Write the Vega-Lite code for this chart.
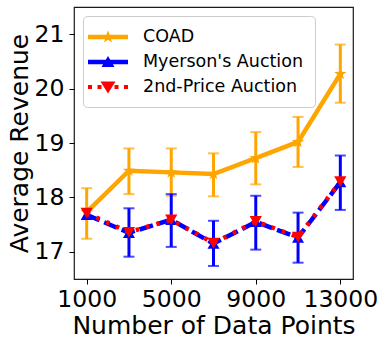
{
  "$schema": "https://vega.github.io/schema/vega-lite/v6.json",
  "width": 279,
  "height": 272,
  "autosize": {"type": "none"},
  "padding": {"left": 74, "top": 7, "right": 34, "bottom": 66},
  "background": "white",
  "config": {
    "view": {"stroke": "#1a1a1a", "strokeWidth": 1.2},
    "font": "DejaVu Sans",
    "axis": {
      "domain": false,
      "grid": false,
      "labelFlush": false,
      "labelOverlap": false,
      "tickColor": "#000",
      "tickSize": 5,
      "tickWidth": 1,
      "labelFont": "DejaVu Sans",
      "labelFontSize": 23.5,
      "labelColor": "#000",
      "titleFont": "DejaVu Sans",
      "titleFontSize": 25,
      "titleFontWeight": "normal",
      "titleColor": "#000"
    }
  },
  "data": {
    "values": [
      {"n": 1000, "series": "COAD", "mean": 17.73, "lo": 17.24, "hi": 18.17},
      {"n": 3000, "series": "COAD", "mean": 18.49, "lo": 18.06, "hi": 18.90},
      {"n": 5000, "series": "COAD", "mean": 18.46, "lo": 18.03, "hi": 18.90},
      {"n": 7000, "series": "COAD", "mean": 18.43, "lo": 18.02, "hi": 18.81},
      {"n": 9000, "series": "COAD", "mean": 18.72, "lo": 18.24, "hi": 19.20},
      {"n": 11000, "series": "COAD", "mean": 19.02, "lo": 18.56, "hi": 19.48},
      {"n": 13000, "series": "COAD", "mean": 20.27, "lo": 19.74, "hi": 20.81},
      {"n": 1000, "series": "Myerson's Auction", "mean": 17.68, "lo": null, "hi": null},
      {"n": 3000, "series": "Myerson's Auction", "mean": 17.35, "lo": 16.91, "hi": 17.80},
      {"n": 5000, "series": "Myerson's Auction", "mean": 17.59, "lo": 17.09, "hi": 18.06},
      {"n": 7000, "series": "Myerson's Auction", "mean": 17.15, "lo": 16.74, "hi": 17.57},
      {"n": 9000, "series": "Myerson's Auction", "mean": 17.55, "lo": 17.04, "hi": 18.03},
      {"n": 11000, "series": "Myerson's Auction", "mean": 17.26, "lo": 16.80, "hi": 17.72},
      {"n": 13000, "series": "Myerson's Auction", "mean": 18.28, "lo": 17.77, "hi": 18.77},
      {"n": 1000, "series": "2nd-Price Auction", "mean": 17.71, "lo": null, "hi": null},
      {"n": 3000, "series": "2nd-Price Auction", "mean": 17.36, "lo": null, "hi": null},
      {"n": 5000, "series": "2nd-Price Auction", "mean": 17.59, "lo": null, "hi": null},
      {"n": 7000, "series": "2nd-Price Auction", "mean": 17.16, "lo": null, "hi": null},
      {"n": 9000, "series": "2nd-Price Auction", "mean": 17.56, "lo": null, "hi": null},
      {"n": 11000, "series": "2nd-Price Auction", "mean": 17.27, "lo": null, "hi": null},
      {"n": 13000, "series": "2nd-Price Auction", "mean": 18.29, "lo": null, "hi": null}
    ]
  },
  "encoding": {
    "x": {
      "field": "n",
      "type": "quantitative",
      "title": "Number of Data Points",
      "scale": {"domain": [400, 13600], "nice": false, "zero": false},
      "axis": {"values": [1000, 5000, 9000, 13000], "format": "d", "title": "Number of Data Points", "labelPadding": 3, "titlePadding": 3}
    }
  },
  "layer": [
    {
      "transform": [{"filter": "datum.series === 'COAD'"}],
      "mark": {"type": "errorbar", "ticks": {"size": 11, "thickness": 2}, "rule": {"strokeWidth": 3}},
      "encoding": {
        "y": {"field": "lo", "type": "quantitative", "title": "Average Revenue", "scale": {"domain": [16.5, 21.5], "nice": false, "zero": false},
          "axis": {"values": [17, 18, 19, 20, 21], "title": "Average Revenue", "labelPadding": 5, "titlePadding": 2}},
        "y2": {"field": "hi"},
        "color": {"field": "series", "type": "nominal",
          "scale": {"domain": ["COAD", "Myerson's Auction", "2nd-Price Auction"], "range": ["#ffa500", "#0000ff", "#ff0000"]}}
      }
    },
    {
      "transform": [{"filter": "datum.series === 'COAD'"}],
      "mark": {"type": "line", "strokeWidth": 4.5},
      "encoding": {
        "y": {"field": "mean", "type": "quantitative", "title": "Average Revenue"},
        "color": {"field": "series", "type": "nominal",
          "legend": {
            "title": null,
            "orient": "top-left",
            "offset": 9,
            "padding": 11,
            "rowPadding": 6,
            "labelFont": "DejaVu Sans",
            "labelFontSize": 17.5,
            "labelColor": "#000",
            "labelLimit": 0,
            "labelOffset": 29,
            "symbolSize": 400,
            "strokeColor": "#cccccc",
            "cornerRadius": 4,
            "fillColor": "rgba(255,255,255,0.8)",
            "encode": {
              "symbols": {
                "update": {
                  "shape": {"signal": "datum.index === 0 ? 'M-1.6,-0.22H2.4V0.22H-1.6Z M0.4,-0.68L0.559,-0.218L1.047,-0.21L0.657,0.083L0.8,0.55L0.4,0.27L0,0.55L0.143,0.083L-0.247,-0.21L0.241,-0.218Z' : datum.index === 1 ? 'M-1.6,-0.22H2.4V0.22H-1.6Z M0.4,-0.6L1.05,0.5L-0.25,0.5Z' : 'M-1.6,-0.2H-1.2V0.2H-1.6Z M-0.65,-0.2H-0.25V0.2H-0.65Z M1.05,-0.2H1.45V0.2H1.05Z M2.0,-0.2H2.4V0.2H2.0Z M-0.35,-0.55H1.15L0.4,0.65Z'"},
                  "fill": {"signal": "datum.index === 0 ? '#ffa500' : datum.index === 1 ? '#0000ff' : '#ff0000'"},
                  "stroke": {"value": "transparent"},
                  "strokeWidth": {"value": 0},
                  "strokeDash": {"value": []},
                  "size": {"value": 400},
                  "opacity": {"value": 1},
                  "fillOpacity": {"value": 1}
                }
              }
            }
          }}
      }
    },
    {
      "transform": [{"filter": "datum.series === 'COAD'"}],
      "mark": {"type": "point", "filled": true, "opacity": 1, "size": 170,
        "shape": "M0,-1L0.235,-0.324L0.951,-0.309L0.38,0.124L0.588,0.809L0,0.4L-0.588,0.809L-0.38,0.124L-0.951,-0.309L-0.235,-0.324Z"},
      "encoding": {
        "y": {"field": "mean", "type": "quantitative", "title": "Average Revenue"},
        "color": {"field": "series", "type": "nominal"}
      }
    },
    {
      "transform": [{"filter": "datum.series !== 'COAD' && isValid(datum.lo)"}],
      "mark": {"type": "errorbar", "ticks": {"size": 11, "thickness": 2}, "rule": {"strokeWidth": 3}},
      "encoding": {
        "y": {"field": "lo", "type": "quantitative", "title": "Average Revenue"},
        "y2": {"field": "hi"},
        "color": {"field": "series", "type": "nominal"}
      }
    },
    {
      "transform": [{"filter": "datum.series === 'Myerson\\'s Auction'"}],
      "mark": {"type": "line", "strokeWidth": 4.5, "strokeDash": [14, 5]},
      "encoding": {
        "y": {"field": "mean", "type": "quantitative", "title": "Average Revenue"},
        "color": {"field": "series", "type": "nominal"}
      }
    },
    {
      "transform": [{"filter": "datum.series === 'Myerson\\'s Auction'"}],
      "mark": {"type": "point", "filled": true, "opacity": 1, "size": 144, "shape": "triangle-up"},
      "encoding": {
        "y": {"field": "mean", "type": "quantitative", "title": "Average Revenue"},
        "color": {"field": "series", "type": "nominal"}
      }
    },
    {
      "transform": [{"filter": "datum.series === '2nd-Price Auction'"}],
      "mark": {"type": "line", "strokeWidth": 4.5, "strokeDash": [3.5, 7.2]},
      "encoding": {
        "y": {"field": "mean", "type": "quantitative", "title": "Average Revenue"},
        "color": {"field": "series", "type": "nominal"}
      }
    },
    {
      "transform": [{"filter": "datum.series === '2nd-Price Auction'"}],
      "mark": {"type": "point", "filled": true, "opacity": 1, "size": 150, "shape": "triangle-down"},
      "encoding": {
        "y": {"field": "mean", "type": "quantitative", "title": "Average Revenue"},
        "color": {"field": "series", "type": "nominal"}
      }
    }
  ]
}
